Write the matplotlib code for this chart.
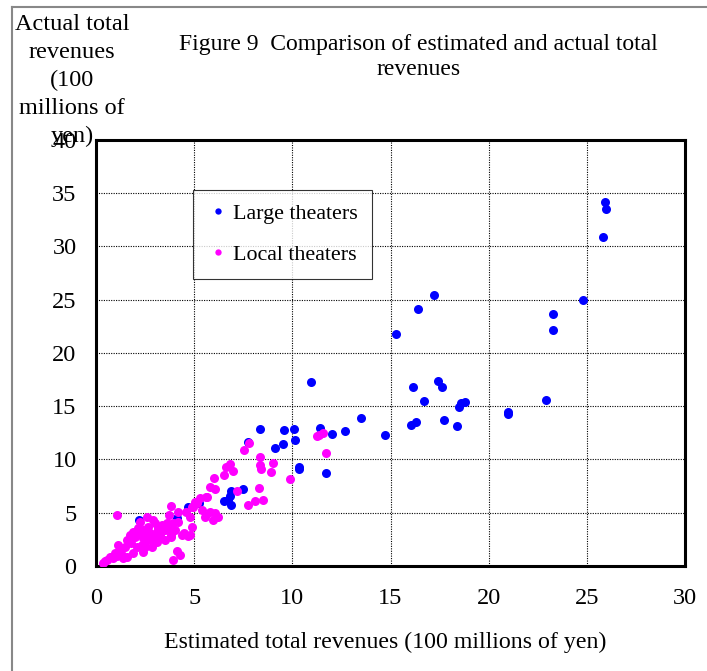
import matplotlib
matplotlib.use("Agg")
import matplotlib.pyplot as plt
from matplotlib.lines import Line2D

plt.rcParams['font.family'] = ['Liberation Serif', 'DejaVu Serif']

# large theaters: (estimated, actual), 100 millions of yen
large_est = [25.9, 26.0, 25.8, 24.8, 23.3, 23.3, 22.9, 17.2, 16.4, 15.3,
             16.15, 17.4, 17.6, 16.7, 18.5, 18.6, 18.8, 21.0, 21.0, 16.05,
             16.3, 17.7, 18.4, 14.7, 10.95, 13.5, 8.35, 9.6, 10.1, 11.4,
             12.0, 12.7, 10.15, 9.5, 9.1, 7.75, 10.35, 10.35, 11.7, 7.5,
             6.9, 6.8, 6.5, 6.7, 6.9, 5.25, 4.7, 4.1, 2.2]
large_act = [34.2, 33.5, 30.9, 25.0, 23.7, 22.2, 15.6, 25.4, 24.1, 21.8,
             16.8, 17.4, 16.8, 15.5, 14.9, 15.3, 15.4, 14.5, 14.3, 13.2,
             13.5, 13.7, 13.1, 12.3, 17.3, 13.9, 12.9, 12.8, 12.9, 13.0,
             12.4, 12.7, 11.8, 11.5, 11.1, 11.6, 9.3, 9.1, 8.7, 7.2,
             7.0, 6.6, 6.1, 6.2, 5.7, 5.9, 5.5, 4.5, 4.3]

# local theaters
local_est = [0.35, 0.45, 0.55, 0.7, 0.85, 0.95, 1.05, 1.2, 1.1, 1.3,
             1.4, 1.5, 1.6, 1.6, 1.75, 1.8, 1.9, 1.9, 2.0, 2.1,
             2.15, 2.25, 2.35, 2.4, 2.4, 2.4, 2.5, 2.6, 2.65, 2.65,
             2.75, 2.85, 2.9, 2.9, 3.0, 3.1, 3.1, 3.15, 3.25, 3.25,
             3.35, 3.5, 3.5, 3.6, 3.7, 3.8, 3.8, 3.9, 4.0, 4.2,
             4.5, 4.4, 4.7, 4.8, 4.9, 4.1, 4.3, 3.9, 1.05, 2.25,
             2.6, 2.9, 3.7, 3.8, 4.2, 4.6, 4.8, 4.9, 5.05, 5.3,
             5.4, 5.15, 4.95, 5.55, 5.65, 5.8, 5.95, 6.05, 6.2, 5.6,
             5.8, 6.05, 6.0, 6.5, 6.6, 6.8, 7.0, 7.2, 7.55, 7.8,
             8.35, 8.35, 8.4, 9.0, 8.9, 9.9, 8.3, 7.75, 8.1, 8.5,
             11.25, 11.35, 11.55, 11.7]
local_act = [0.3, 0.5, 0.6, 0.85, 0.75, 1.2, 0.9, 1.5, 2.0, 1.0,
             0.75, 1.8, 2.4, 0.85, 2.9, 2.2, 1.2, 3.2, 2.7, 1.8,
             3.6, 3.1, 2.0, 2.6, 1.3, 3.4, 1.8, 2.7, 2.4, 3.7,
             3.1, 1.8, 2.6, 2.4, 4.0, 3.2, 2.25, 3.6, 2.7, 2.9,
             3.85, 3.4, 2.4, 4.0, 3.4, 2.7, 2.9, 4.0, 3.4, 4.1,
             3.1, 2.9, 2.8, 2.9, 3.7, 1.4, 1.0, 0.6, 4.8, 4.1,
             4.6, 4.3, 4.8, 5.6, 5.1, 5.1, 4.6, 5.5, 6.0, 6.4,
             5.3, 5.9, 5.5, 4.6, 6.5, 5.1, 4.3, 5.0, 4.6, 6.5,
             7.4, 7.2, 8.3, 8.5, 9.3, 9.6, 8.9, 7.0, 10.9, 11.55,
             10.2, 9.5, 9.1, 9.7, 8.8, 8.2, 7.3, 5.7, 6.1, 6.2,
             12.2, 12.3, 12.5, 10.6]

x_ticks = [0, 5, 10, 15, 20, 25, 30]
y_ticks = [0, 5, 10, 15, 20, 25, 30, 35, 40]

fig = plt.figure(figsize=(7.07, 6.71), dpi=100)
ax = fig.add_axes([0.1358, 0.1565, 0.8331, 0.6349])

ax.plot(large_est, large_act, 'o', color='#0000ff', markersize=6.5,
        markeredgewidth=0, label='Large theaters', zorder=3)
ax.plot(local_est, local_act, 'o', color='#ff00ff', markersize=6.5,
        markeredgewidth=0, label='Local theaters', zorder=4)

ax.set_xlim(0, 30)
ax.set_ylim(0, 40)
ax.set_xticks(x_ticks)
ax.set_yticks(y_ticks)
ax.tick_params(length=0, labelsize=17.5)
ax.tick_params(axis='x', pad=16)
ax.tick_params(axis='y', pad=14)
ax.grid(True, color='black', linestyle=(0, (1, 1.2)), linewidth=0.8)
ax.set_axisbelow(True)
for s in ax.spines.values():
    s.set_linewidth(2.2)

leg = ax.legend(loc='upper left', bbox_to_anchor=(0.1647, 0.8826),
                fontsize=15.8, frameon=True, fancybox=False,
                edgecolor='black', handletextpad=0.2, handlelength=1.0,
                markerscale=0.7, labelspacing=0.94, borderpad=0.63,
                borderaxespad=0)
leg.get_frame().set_linewidth(0.8)

fig.text(0.592, 0.915, "Figure 9  Comparison of estimated and actual total\nrevenues",
         ha='center', va='center', fontsize=17, linespacing=1.3)
fig.text(0.102, 0.88, "Actual total\nrevenues\n(100\nmillions of\nyen)",
         ha='center', va='center', fontsize=17.5, linespacing=1.42)
fig.text(0.545, 0.042, "Estimated total revenues (100 millions of yen)",
         ha='center', va='center', fontsize=17.2)

# thin grey frame on the left and top
fig.add_artist(Line2D([0.017, 0.017], [0.0, 0.989], transform=fig.transFigure,
                      color='#888888', linewidth=1.5))
fig.add_artist(Line2D([0.017, 1.0], [0.989, 0.989], transform=fig.transFigure,
                      color='#888888', linewidth=1.5))

fig.savefig("out.png", dpi=100)
